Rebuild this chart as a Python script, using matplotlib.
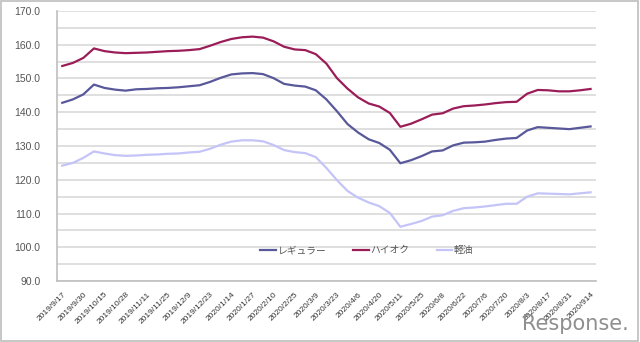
import matplotlib
matplotlib.use("Agg")
import matplotlib.pyplot as plt
import numpy as np
from matplotlib.patches import Rectangle

# Weekly retail fuel prices (yen per litre)
tick_labels = [
    "2019/9/17", "2019/9/30", "2019/10/15", "2019/10/28", "2019/11/11",
    "2019/11/25", "2019/12/9", "2019/12/23", "2020/1/14", "2020/1/27",
    "2020/2/10", "2020/2/25", "2020/3/9", "2020/3/23", "2020/4/6",
    "2020/4/20", "2020/5/11", "2020/5/25", "2020/6/8", "2020/6/22",
    "2020/7/6", "2020/7/20", "2020/8/3", "2020/8/17", "2020/8/31", "2020/914",
]

regular = [
    142.8, 143.8, 145.3, 148.2, 147.2, 146.7, 146.4, 146.8, 146.9, 147.1,
    147.2, 147.4, 147.7, 148.0, 149.0, 150.2, 151.2, 151.5, 151.6, 151.3,
    150.1, 148.4, 147.9, 147.6, 146.5, 143.8, 140.3, 136.5, 134.0, 132.0,
    130.9, 128.9, 124.9, 125.8, 127.0, 128.4, 128.7, 130.2, 131.0, 131.1,
    131.3, 131.8, 132.2, 132.4, 134.6, 135.6, 135.4, 135.2, 135.0, 135.4,
    135.8,
]

high_octane = [
    153.7, 154.6, 156.1, 158.9, 158.1, 157.7, 157.5, 157.6, 157.7, 157.9,
    158.1, 158.2, 158.4, 158.7, 159.7, 160.8, 161.7, 162.2, 162.4, 162.1,
    161.0, 159.4, 158.6, 158.4, 157.2, 154.4, 150.1, 147.0, 144.4, 142.6,
    141.7, 139.8, 135.7, 136.6, 137.9, 139.3, 139.7, 141.1, 141.8, 142.0,
    142.3, 142.7, 143.0, 143.1, 145.5, 146.6, 146.5, 146.2, 146.2, 146.5,
    146.9,
]

diesel = [
    124.2, 125.0, 126.5, 128.4, 127.8, 127.3, 127.1, 127.2, 127.4, 127.5,
    127.7, 127.8, 128.1, 128.3, 129.2, 130.4, 131.3, 131.7, 131.7, 131.4,
    130.3, 128.8, 128.2, 127.9, 126.7, 123.5, 119.9, 116.7, 114.7, 113.3,
    112.2, 110.2, 106.1, 106.9, 107.8, 109.1, 109.5, 110.8, 111.6, 111.8,
    112.1, 112.5, 112.9, 112.9, 115.0, 116.0, 115.9, 115.8, 115.7, 116.0,
    116.3,
]

series_names = ["レギュラー", "ハイオク", "軽油"]
series_colors = ["#58589a", "#9b1d58", "#c4c4f8"]

fig = plt.figure(figsize=(6.4, 3.42), dpi=100)
ax = fig.add_axes([0.089, 0.178, 0.842, 0.790])

x = np.arange(len(regular))
for vals, name, col in zip([regular, high_octane, diesel], series_names, series_colors):
    ax.plot(x, vals, color=col, lw=1.6, label=name, solid_joinstyle="round")

ax.set_xlim(-0.5, len(regular) - 0.5)
ax.set_ylim(90, 170)

yt = np.arange(90, 171, 5)
ax.set_yticks(yt)
ax.set_yticklabels([f"{v:.1f}" if v % 10 == 0 else "" for v in yt],
                   family="Liberation Sans", fontsize=7.5, color="#555555")
ax.tick_params(axis="y", length=0, pad=12)

ax.set_xticks(x[::2])
ax.set_xticklabels(tick_labels, rotation=45, ha="right", rotation_mode="anchor",
                   family="Liberation Sans", fontsize=6, color="#333333")
ax.tick_params(axis="x", length=0, pad=7)

ax.grid(axis="y", color="#d9d9d9", lw=1.2)
ax.set_axisbelow(True)
for s in ["top", "right"]:
    ax.spines[s].set_visible(False)
for s in ["left", "bottom"]:
    ax.spines[s].set_color("#bfbfbf")
    ax.spines[s].set_linewidth(1.2)

leg = ax.legend(loc="center", bbox_to_anchor=(0.575, 0.115), ncol=3, frameon=False,
                prop={"family": ["Noto Sans CJK JP", "DejaVu Sans"], "size": 7},
                handlelength=1.6, handletextpad=0.15, columnspacing=2.8)
for t in leg.get_texts():
    t.set_color("#555555")

# Publisher mark
fig.text(0.982, 0.022, "Response.", ha="right", va="bottom", fontsize=15,
         color="#8f8f8f", family="DejaVu Sans")

# Chart area border
fig.patches.append(Rectangle((0.002, 0.004), 0.995, 0.992, transform=fig.transFigure,
                             fill=False, edgecolor="#bdbdbd", lw=1.2))

fig.savefig("out.png", dpi=100)
